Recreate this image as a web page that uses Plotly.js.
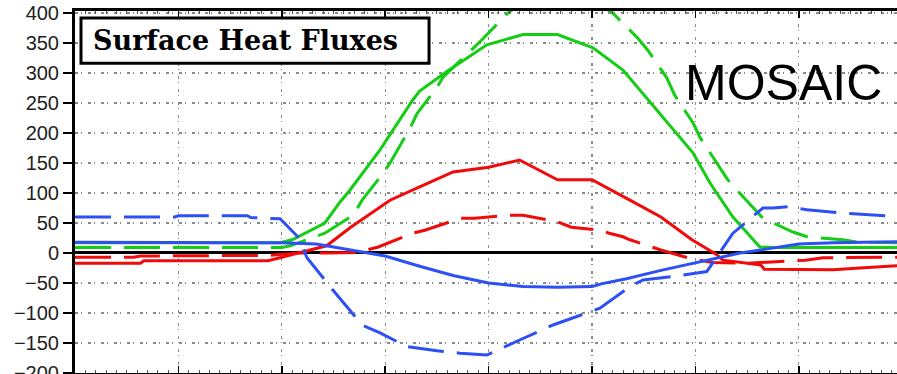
<!DOCTYPE html>
<html>
<head>
<meta charset="utf-8">
<script src="https://cdn.plot.ly/plotly-3.0.1.min.js"></script>
<style>html,body{margin:0;padding:0;background:#fff;}#chart{width:897px;height:374px;}</style>
</head>
<body>
<div id="chart"></div>
<script>
// Hours of the day (x) and flux values in W/m^2 (y)
const redDashX = [0,1.7,1.9,5,5.6,6,6.5,7.3,8.2,8.8,9.8,10.15,11.2,11.6,12.6,13,14,14.4,15.23,15.5,15.9,16.1,16.6,17,17.3,17.9,18.5,19.5,20.2,21.2,21.7,22.7,24];
const redDashY = [-7,-7,-5,-5,-4,-2,0,0,1,10,33,38,58,58,63,63,52,43,38,33,27,22,12,5,0,-10,-16,-17,-15,-12,-8,-7,-7];

const redSolidX = [0,1.9,2.0,5.6,6,6.5,7.3,8,9.14,10,10.97,12,12.9,14,15,16.1,17,17.9,18.4,18.6,18.8,19.9,20,21,22,23,24];
const redSolidY = [-17,-17,-13,-13,-7,0,12,43,88,110,135,143,155,122,122,88,60,22,5,-2,-12,-20,-27,-28,-28,-24,-21];

const greenDashX = [0,6,6.24,7.25,8.07,8.33,8.94,9.14,9.72,9.92,10.5,10.68,11.75,12.56,13.5,14.6,15.6,16.33,16.62,17.17,17.4,17.93,18.13,18.65,18.94,19.2,19.64,19.96,20.83,21.24,22.28,22.7,24];
const greenDashY = [9,9,12,33,63,88,133,150,208,232,276,293,352,400,440,440,400,358,338,292,263,217,193,147,122,105,77,58,35,27,22,18,17];

const greenSolidX = [0,5.95,6.3,7.25,7.69,7.98,8.85,9.22,9.8,10,10.8,11.95,13,14,15.03,15.9,16.68,17.93,18.42,19.09,19.87,20.3,24];
const greenSolidY = [17,17,22,50,85,105,172,205,255,270,303,347,364,364,342,305,252,167,117,60,10,9,9];

const blueDashX = [0,2.9,3.0,5.0,5.1,5.95,6.5,6.73,7.25,7.4,8.33,8.85,9.63,10.5,11.17,11.95,12.9,13.87,15.23,16.1,16.48,17.5,18.33,19.09,19.38,19.96,20.25,20.68,21.24,22.19,23.27,24];
const blueDashY = [60,60,62,62,59,57,25,-8,-45,-56,-120,-133,-156,-163,-167,-170,-145,-120,-92,-56,-45,-38,-31,33,47,75,75,77,72,67,63,60];

const blueSolidX = [0,6,7,8,9,10,11,12,13,14,15,15.3,16,17,18,19,19.3,20,21,22,23,24];
const blueSolidY = [18,17,15,5,-5,-22,-38,-50,-56,-57,-56,-51,-43,-29,-16,-4,0,6,15,17,18,19];

const yTicks = [-200,-150,-100,-50,0,50,100,150,200,250,300,350,400];
const yTickText = ['\u2212200','\u2212150','\u2212100','\u221250','0','50','100','150','200','250','300','350','400'];

const RED = 'rgb(240,10,10)', GREEN = 'rgb(20,205,20)', BLUE = 'rgb(45,80,245)';
const DASH = '36px,13px';

function tr(x, y, color, dash) {
  return {x: x, y: y, type: 'scatter', mode: 'lines',
    line: {color: color, width: 3, dash: dash}, hoverinfo: 'skip', showlegend: false};
}

const data = [
  tr(redDashX, redDashY, RED, DASH),
  tr(redSolidX, redSolidY, RED, 'solid'),
  tr(greenDashX, greenDashY, GREEN, DASH),
  tr(greenSolidX, greenSolidY, GREEN, 'solid'),
  tr(blueDashX, blueDashY, BLUE, DASH),
  tr(blueSolidX, blueSolidY, BLUE, 'solid')
];

const gridDash = '3px,3px,1px,6px';

const layout = {
  width: 897, height: 374,
  margin: {l: 75, r: 0, t: 11, b: 1, pad: 0},
  paper_bgcolor: '#fff', plot_bgcolor: '#fff',
  showlegend: false,
  xaxis: {
    range: [0, 23.85], dtick: 3, tick0: 0,
    showticklabels: false,
    showgrid: true, gridcolor: '#8a8a8a', gridwidth: 1.2, griddash: gridDash,
    zeroline: false,
    showline: true, linecolor: '#000', linewidth: 3, mirror: 'ticks',
    ticks: 'inside', ticklen: 7, tickwidth: 1.5, tickcolor: '#000',
    minor: {dtick: 0.3, ticks: 'inside', ticklen: 3, tickwidth: 1, tickcolor: '#555', showgrid: false}
  },
  yaxis: {
    range: [-200, 403.3],
    tickvals: yTicks, ticktext: yTickText,
    ticklabeloverflow: 'allow',
    showgrid: true, gridcolor: '#8a8a8a', gridwidth: 1.2, griddash: gridDash,
    zeroline: true, zerolinecolor: '#000', zerolinewidth: 3,
    showline: true, linecolor: '#000', linewidth: 3,
    ticks: 'outside', ticklen: 9, tickwidth: 2, tickcolor: '#000',
    tickfont: {family: 'Liberation Sans, Arial, sans-serif', size: 20, color: '#222'}
  },
  shapes: [
    {type: 'rect', xref: 'paper', yref: 'paper', x0: 0.0073, x1: 0.4307, y0: 0.856, y1: 0.9806,
     fillcolor: '#fff', line: {color: '#000', width: 3}, layer: 'above'}
  ],
  annotations: [
    {xref: 'paper', yref: 'paper', x: 0.207, y: 0.918, xanchor: 'center', yanchor: 'middle',
     text: '<b>Surface Heat Fluxes</b>', showarrow: false,
     font: {family: 'DejaVu Serif, serif', size: 27, color: '#000'}},
    {xref: 'paper', yref: 'paper', x: 0.8625, y: 0.80, xanchor: 'center', yanchor: 'middle',
     text: 'MOSAIC', showarrow: false,
     font: {family: 'Liberation Sans, Arial, sans-serif', size: 50, color: '#000'}}
  ]
};

Plotly.newPlot('chart', data, layout, {staticPlot: true, displayModeBar: false});
</script>
</body>
</html>
